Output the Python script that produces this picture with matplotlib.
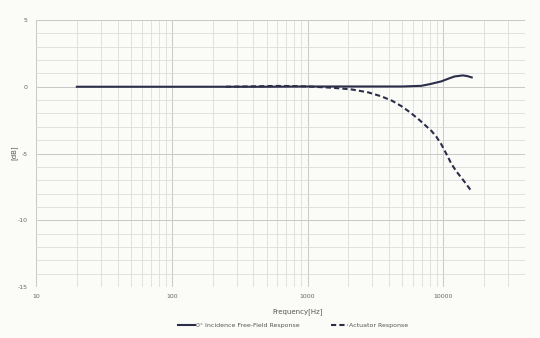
import matplotlib.pyplot as plt
from matplotlib.ticker import FixedLocator, NullFormatter
import numpy as np

plt.rcParams['axes.unicode_minus'] = False

# frequency response
freq_solid = [20, 100, 500, 1000, 3000, 5000, 6900, 8000, 9660, 11000, 12100, 13950, 15000, 16200]
db_solid = [0.0, 0.0, 0.0, 0.02, 0.02, 0.02, 0.07, 0.2, 0.4, 0.62, 0.77, 0.85, 0.8, 0.7]

freq_dash = [250, 400, 600, 800, 1000, 1500, 2110, 2800, 3500, 4200, 4910, 5700, 6520,
             7300, 8170, 8900, 9660, 10500, 11450, 12400, 13550, 14800, 16060]
db_dash = [0.0, 0.03, 0.06, 0.05, 0.02, -0.07, -0.2, -0.42, -0.72, -1.05, -1.45, -1.92, -2.4,
           -2.85, -3.3, -3.75, -4.3, -5.0, -5.75, -6.3, -6.8, -7.3, -7.8]

label_solid = "0° Incidence Free-Field Response"
label_dash = "Actuator Response"

line_col = "#2b2e48"
bg = "#fbfbf8"

fig = plt.figure(figsize=(5.4, 3.38), dpi=100, facecolor=bg)
ax = fig.add_axes([36/540, 1-287/338, (525-36)/540, (287-20)/338])
ax.set_facecolor(bg)

ax.semilogx(freq_solid, db_solid, color=line_col, lw=1.5, label=label_solid, zorder=3)
ax.semilogx(freq_dash, db_dash, color=line_col, lw=1.5, ls=(0, (2.5, 1.5)), label=label_dash, zorder=3)

ax.set_xlim(10, 40000)
ax.set_ylim(-15, 5)

ax.xaxis.set_major_locator(FixedLocator([10, 100, 1000, 10000]))
ax.set_xticklabels(["10", "100", "1000", "10000"])
minors = [m * d for d in [10, 100, 1000, 10000] for m in range(2, 10) if m * d < 40000]
ax.xaxis.set_minor_locator(FixedLocator(minors))
ax.xaxis.set_minor_formatter(NullFormatter())
ax.set_yticks([5, 0, -5, -10, -15])
ax.set_yticks(np.arange(-15, 6, 1), minor=True)

ax.grid(True, which="major", color="#c8c8c8", lw=0.7)
ax.grid(True, which="minor", color="#dcdcdc", lw=0.6)
ax.set_axisbelow(True)

ax.tick_params(which="both", length=0, labelsize=4.5, labelcolor="#666666")
ax.tick_params(axis="x", pad=5)
ax.tick_params(axis="y", pad=6)
for s in ax.spines.values():
    s.set_visible(False)

fig.text(298/540, 1-312/338, "Frequency[Hz]", ha="center", va="center", fontsize=5, color="#555555")
fig.text(14/540, 1-153/338, "[dB]", ha="center", va="center", rotation=90, fontsize=5, color="#555555")

leg = fig.legend(loc="center", bbox_to_anchor=(293/540, 1-325/338), ncol=2, frameon=False,
                 fontsize=4.5, handlelength=2.7, handletextpad=0.2, columnspacing=5)
for t in leg.get_texts():
    t.set_color("#555555")

fig.savefig("out.png", dpi=100, facecolor=bg)
